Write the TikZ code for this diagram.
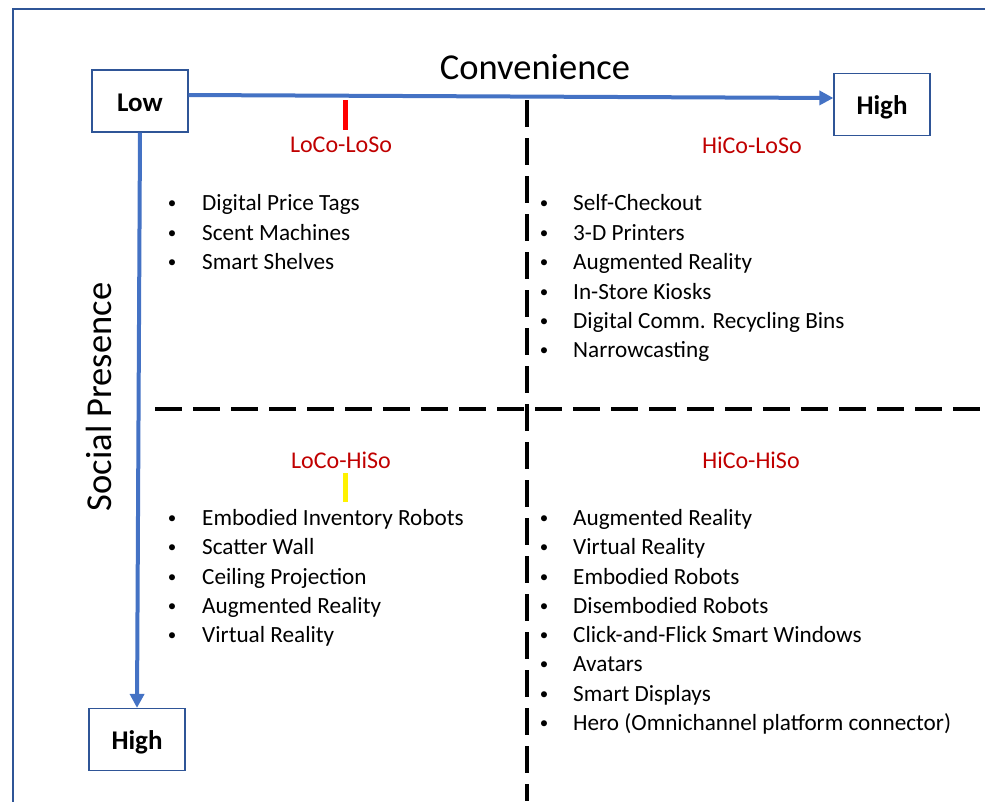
\documentclass[tikz,border=0pt]{standalone}
\usepackage{fontspec}
\setmainfont{Carlito}
\usetikzlibrary{arrows.meta}
\definecolor{axisblue}{HTML}{4472C4}
\definecolor{framebl}{HTML}{2F5597}
\definecolor{quadred}{HTML}{C00000}
\tikzset{
  axisbox/.style={draw=framebl, line width=1.2pt, fill=white, minimum width=96pt, minimum height=62pt, text height=20pt, text depth=0pt, inner sep=0pt, font=\fontsize{27}{32}\selectfont\bfseries},
  axisarrow/.style={draw=axisblue, line width=4pt, -{Triangle[length=14pt,width=14pt]}},
  divider/.style={draw=black, line width=3.6pt, dash pattern=on 27pt off 11pt},
  quadlabel/.style={text=quadred, font=\fontsize{24}{28}\selectfont},
  item/.style={anchor=base west, inner sep=0pt, font=\fontsize{23.2}{28}\selectfont},
  dot/.style={anchor=base, inner sep=0pt, font=\fontsize{17}{20}\selectfont},
  axistitle/.style={font=\fontsize{36.5}{42}\selectfont},
}
\begin{document}
\begin{tikzpicture}[x=1pt,y=-1pt]
\useasboundingbox (0,0) rectangle (985,801);
% outer frame (only the top and left edges fall inside the page)
\draw[framebl, line width=1.2pt] (13,820) -- (13,9) -- (1000,9);

% quadrant dividers
\draw[divider] (527,100) -- (527,801);
\draw[divider] (155,409) -- (985,409);

% axis boxes
\node[axisbox] (low) at (140,101) {Low};
\node[axisbox] (highc) at (882,104.5) {High};
\node[axisbox] (highs) at (137,739.5) {High};

% axes
\draw[axisarrow] ([yshift=6pt]low.east) -- ([yshift=6.5pt]highc.west);
\draw[axisarrow] (low.south) -- (highs.north);

\node[axistitle] (conv) at (535,67) {Convenience};
\node[axistitle, rotate=90] (soc) at (99,397) {Social Presence};

% markers
\fill[red] (342.5,100) rectangle (347.5,130);
\fill[yellow] (342.5,473) rectangle (347.5,502);

% quadrant labels
\node[quadlabel] (ll) at (341,145) {LoCo-LoSo};
\node[quadlabel] (hl) at (752,145) {HiCo-LoSo};
\node[quadlabel] (lh) at (341,460) {LoCo-HiSo};
\node[quadlabel] (hh) at (751,460) {HiCo-HiSo};

% LoCo-LoSo items
\foreach \y/\t in {203/Digital Price Tags, 233/Scent Machines, 262/Smart Shelves}{
  \node[dot] at (172,\y+5) {•};
  \node[item] at (202,\y+7.5) {\t};
}
% HiCo-LoSo items
\foreach \y/\t in {203/Self-Checkout, 233/3-D Printers, 262/Augmented Reality, 292/In-Store Kiosks, 321/Digital Comm. Recycling Bins, 350/Narrowcasting}{
  \node[dot] at (544,\y+5) {•};
  \node[item] at (573,\y+7.5) {\t};
}
% LoCo-HiSo items
\foreach \y/\t in {518/Embodied Inventory Robots, 547/Scatter Wall, 577/Ceiling Projection, 606/Augmented Reality, 635/Virtual Reality}{
  \node[dot] at (172,\y+5) {•};
  \node[item] at (202,\y+7.5) {\t};
}
% HiCo-HiSo items
\foreach \y/\t in {518/Augmented Reality, 547/Virtual Reality, 577/Embodied Robots, 606/Disembodied Robots, 635/Click-and-Flick Smart Windows, 664/Avatars, 694/Smart Displays, 723/Hero (Omnichannel platform connector)}{
  \node[dot] at (544,\y+5) {•};
  \node[item] at (573,\y+7.5) {\t};
}
\end{tikzpicture}
\end{document}
